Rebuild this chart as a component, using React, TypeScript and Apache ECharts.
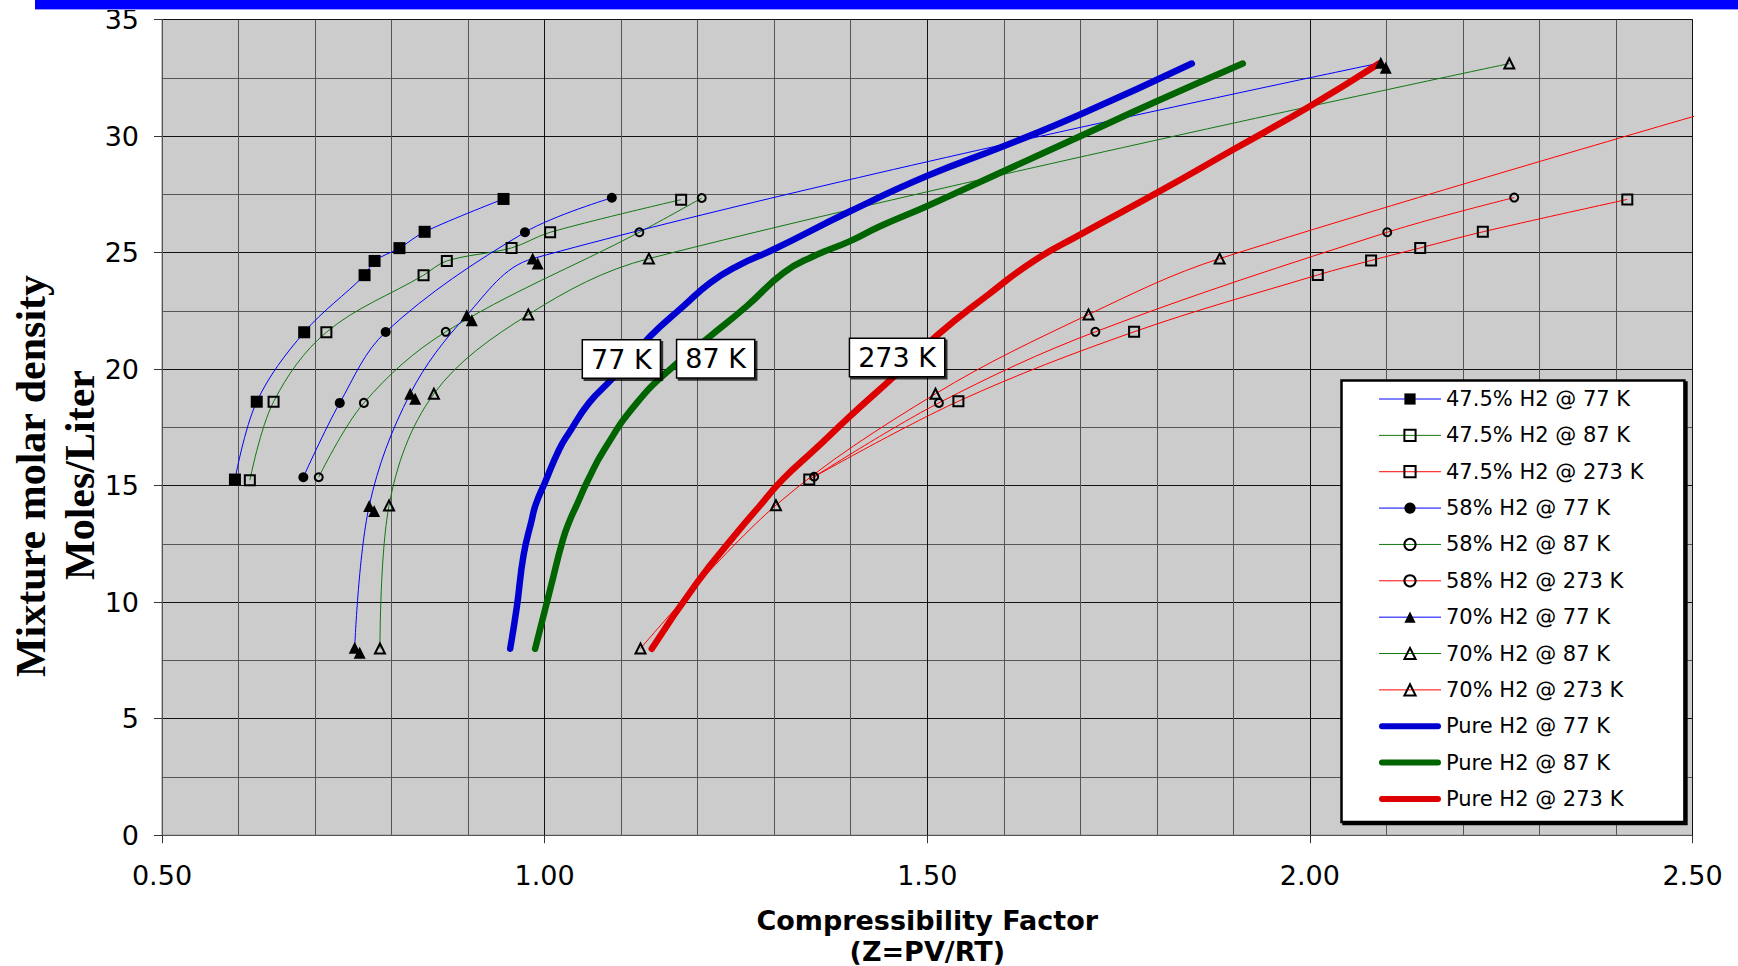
import React, { useEffect, useRef } from 'react';
import * as echarts from 'echarts';

// ---- Data ----
const seriesNames = [
  '47.5% H2 @ 77 K', '47.5% H2 @ 87 K', '47.5% H2 @ 273 K',
  '58% H2 @ 77 K', '58% H2 @ 87 K', '58% H2 @ 273 K',
  '70% H2 @ 77 K', '70% H2 @ 87 K', '70% H2 @ 273 K',
  'Pure H2 @ 77 K', 'Pure H2 @ 87 K', 'Pure H2 @ 273 K',
];

const h475_77 = [[0.5953, 15.26], [0.6238, 18.6], [0.6858, 21.58], [0.7647, 24.03], [0.7778, 24.64], [0.8103, 25.19], [0.8432, 25.89], [0.9463, 27.3]];
const h475_87 = [[0.6148, 15.23], [0.6458, 18.6], [0.7148, 21.58], [0.8418, 24.03], [0.8722, 24.64], [0.9568, 25.2], [1.0072, 25.87], [1.1784, 27.27]];
const h475_273 = [[1.3458, 15.26], [1.5407, 18.62], [1.7703, 21.6], [2.0103, 24.04], [2.08, 24.66], [2.1442, 25.2], [2.226, 25.89], [2.4148, 27.28]];
const h58_77 = [[0.6847, 15.36], [0.7323, 18.55], [0.7923, 21.59], [0.9743, 25.87], [1.0878, 27.35]];
const h58_87 = [[0.7048, 15.36], [0.7638, 18.55], [0.8708, 21.6], [1.1238, 25.87], [1.2053, 27.34]];
const h58_273 = [[1.3522, 15.38], [1.5152, 18.55], [1.7197, 21.6], [2.1011, 25.87], [2.267, 27.36]];
const h70_77 = [[0.7518, 8.04], [0.7707, 14.12], [0.8243, 18.94], [0.8983, 22.31], [0.9844, 24.74], [2.0926, 33.14]];
const h70_87 = [[0.7848, 8.01], [0.7967, 14.15], [0.8553, 18.94], [0.9787, 22.34], [1.1363, 24.74], [2.2606, 33.11]];
const h70_273 = [[1.1253, 8.01], [1.3023, 14.16], [1.5108, 18.94], [1.7107, 22.34], [1.8821, 24.74], [2.74, 33.1]];

const pure77 = [[0.955, 8.0], [0.9637, 9.8], [0.9724, 12.0], [0.9833, 13.55], [0.9885, 14.2], [1.0, 15.1], [1.019, 16.55], [1.032, 17.27], [1.058, 18.55], [1.088, 19.58], [1.138, 21.41], [1.1814, 22.7], [1.2163, 23.7], [1.2511, 24.41], [1.299, 25.13], [1.3992, 26.77], [1.4994, 28.28], [1.5996, 29.56], [1.6998, 30.92], [1.8457, 33.11]];
const pure87 = [[0.9876, 8.0], [1.0072, 10.54], [1.024, 12.69], [1.0334, 13.55], [1.041, 14.1], [1.057, 15.26], [1.078, 16.55], [1.1205, 18.55], [1.1683, 20.12], [1.2163, 21.41], [1.2642, 22.7], [1.3121, 24.13], [1.3513, 24.84], [1.3992, 25.49], [1.4384, 26.13], [1.4994, 26.99], [1.5996, 28.49], [1.6998, 29.99], [1.7999, 31.49], [1.9123, 33.11]];
const pure273 = [[1.14, 8.0], [1.1989, 10.83], [1.2511, 12.97], [1.279, 14.05], [1.311, 15.26], [1.3532, 16.55], [1.3992, 17.98], [1.457, 19.7], [1.513, 21.45], [1.58, 23.2], [1.6387, 24.63], [1.6998, 25.77], [1.7999, 27.56], [1.9, 29.42], [2.0, 31.28], [2.09, 33.1]];

const tempLabels = ['77 K', '87 K', '273 K'];
const tempLabelX = [1.1003, 1.2235, 1.4606];
const tempLabelY = [20.43, 20.44, 20.5];

const yAxisTitle = ['Mixture molar density', 'Moles/Liter'];
const xAxisTitle = 'Compressibility Factor\n(Z=PV/RT)';

// ---- Styling ----
const BLUE = '#0000ff';
const GREEN = '#117711';
const RED = '#ff0000';
const FONT = '"DejaVu Sans", Verdana, sans-serif';

function thin(name: string, data: number[][], color: string, symbol: string, filled: boolean, size: number, shadow = false) {
  const itemStyle: any = filled
    ? { color: '#000', borderWidth: 0 }
    : { color: 'rgba(0,0,0,0)', borderColor: '#000', borderWidth: 2 };
  if (shadow) {
    itemStyle.shadowColor = '#000';
    itemStyle.shadowOffsetX = 5;
    itemStyle.shadowOffsetY = 5;
    itemStyle.shadowBlur = 0;
  }
  return {
    name,
    type: 'line',
    data,
    smooth: 0.35,
    symbol,
    symbolSize: size,
    showSymbol: true,
    lineStyle: { color, width: 1 },
    itemStyle,
    emphasis: { disabled: true },
    silent: true,
  };
}

function thick(name: string, data: number[][], color: string) {
  return {
    name,
    type: 'line',
    data,
    smooth: 0.5,
    symbol: 'none',
    showSymbol: false,
    lineStyle: { color, width: 6.5, cap: 'round', join: 'round' },
    itemStyle: { color },
    emphasis: { disabled: true },
    silent: true,
  };
}

const barIcon = 'path://M3,0 L59,0 A3,3 0 0 1 59,6 L3,6 A3,3 0 0 1 3,0 Z';

export default function App() {
  const ref = useRef<HTMLDivElement>(null);

  useEffect(() => {
    if (!ref.current) return;
    const chart = echarts.init(ref.current, null, { renderer: 'svg' });

    const series = [
      thin(seriesNames[0], h475_77, BLUE, 'rect', true, 12),
      thin(seriesNames[1], h475_87, GREEN, 'rect', false, 10),
      thin(seriesNames[2], h475_273, RED, 'rect', false, 10),
      thin(seriesNames[3], h58_77, BLUE, 'circle', true, 10),
      thin(seriesNames[4], h58_87, GREEN, 'circle', false, 8),
      thin(seriesNames[5], h58_273, RED, 'circle', false, 8),
      thin(seriesNames[6], h70_77, BLUE, 'triangle', true, 12, true),
      thin(seriesNames[7], h70_87, GREEN, 'triangle', false, 10),
      thin(seriesNames[8], h70_273, RED, 'triangle', false, 10),
      thick(seriesNames[9], pure77, '#0000d0'),
      thick(seriesNames[10], pure87, '#006400'),
      thick(seriesNames[11], pure273, '#dd0000'),
    ];

    const legendData = seriesNames.map((n, i) => {
      if (i >= 9) return { name: n, icon: barIcon };
      if (i === 6) return { name: n, itemStyle: { shadowBlur: 0, shadowOffsetX: 0, shadowOffsetY: 0, shadowColor: 'rgba(0,0,0,0)' } };
      return { name: n };
    });

    const option: any = {
      animation: false,
      backgroundColor: '#ffffff',
      textStyle: { fontFamily: FONT },
      grid: {
        left: 162, right: 45.5, top: 19.5, bottom: 130.8,
        show: true, backgroundColor: '#cccccc', borderColor: '#808080', borderWidth: 1,
        containLabel: false,
        outerBoundsMode: 'none',
      },
      legend: {
        orient: 'vertical',
        left: 1341.5,
        top: 380.5,
        data: legendData,
        selectedMode: false,
        itemWidth: 62,
        itemHeight: 14,
        itemGap: 15.36,
        padding: [8, 41, 12.5, 37],
        backgroundColor: '#ffffff',
        borderColor: '#000000',
        borderWidth: 2.5,
        shadowColor: '#000000',
        shadowBlur: 0,
        shadowOffsetX: 2,
        shadowOffsetY: 2,
        lineStyle: { width: 'inherit' },
        itemStyle: { borderWidth: 'inherit' },
        textStyle: { fontFamily: FONT, fontSize: 21, color: '#000', lineHeight: 21 },
      },
      xAxis: {
        type: 'value',
        min: 0.5,
        max: 2.5,
        interval: 0.5,
        name: xAxisTitle,
        nameLocation: 'middle',
        nameGap: 69.5,
        nameTextStyle: { fontFamily: FONT, fontWeight: 'bold', fontSize: 27, lineHeight: 31, color: '#000' },
        axisLine: { show: true, lineStyle: { color: '#555', width: 1 } },
        axisTick: { show: true, length: 8, lineStyle: { color: '#333' } },
        axisLabel: { formatter: (v: number) => v.toFixed(2), fontFamily: FONT, fontSize: 27, color: '#000', margin: 27 },
        splitLine: { show: true, lineStyle: { color: '#111', width: 1 } },
        minorTick: { show: false, splitNumber: 5 },
        minorSplitLine: { show: true, lineStyle: { color: '#555', width: 1 } },
      },
      yAxis: {
        type: 'value',
        min: 0,
        max: 35,
        interval: 5,
        axisLine: { show: true, lineStyle: { color: '#555', width: 1 } },
        axisTick: { show: true, length: 8, lineStyle: { color: '#333' } },
        axisLabel: { fontFamily: FONT, fontSize: 27, color: '#000', margin: 23 },
        splitLine: { show: true, lineStyle: { color: '#111', width: 1 } },
        minorTick: { show: false, splitNumber: 2 },
        minorSplitLine: { show: true, lineStyle: { color: '#555', width: 1 } },
      },
      series,
    };

    chart.setOption(option);

    const boxes = tempLabels.map((t, i) => {
      const p = chart.convertToPixel({ gridIndex: 0 }, [tempLabelX[i], tempLabelY[i]]) as number[];
      return {
        type: 'text',
        x: p[0],
        y: p[1],
        z: 100,
        silent: true,
        style: {
          text: t,
          font: '27px "DejaVu Sans"',
          fill: '#000',
          align: 'center',
          verticalAlign: 'middle',
          textAlign: 'center',
          textVerticalAlign: 'middle',
          backgroundColor: '#ffffff',
          borderColor: '#000000',
          borderWidth: 1.5,
          padding: [4, 8, 4, 8],
          lineHeight: 29,
          shadowColor: 'rgba(0,0,0,0.75)',
          shadowBlur: 0,
          shadowOffsetX: 2,
          shadowOffsetY: 2,
        },
      };
    });

    const titleFont = 'bold 42px "Liberation Serif", "Times New Roman", serif';
    chart.setOption({
      graphic: [
        { type: 'rect', z: 100, silent: true, shape: { x: 35, y: 0, width: 1703, height: 9 }, style: { fill: '#0000ff' } },
        { type: 'line', z: 100, silent: true, shape: { x1: 35, y1: 9.5, x2: 1738, y2: 9.5 }, style: { stroke: '#9999ff', lineWidth: 1 } },
        {
          type: 'text', z: 100, silent: true, x: 31, y: 476, rotation: Math.PI / 2,
          style: { text: yAxisTitle[0], font: titleFont, fill: '#000', align: 'center', verticalAlign: 'middle', textAlign: 'center', textVerticalAlign: 'middle' },
        },
        {
          type: 'text', z: 100, silent: true, x: 80, y: 475, rotation: Math.PI / 2,
          style: { text: yAxisTitle[1], font: titleFont, fill: '#000', align: 'center', verticalAlign: 'middle', textAlign: 'center', textVerticalAlign: 'middle' },
        },
        ...boxes,
      ],
    });

    return () => {
      chart.dispose();
    };
  }, []);

  return (
    <div
      ref={ref}
      style={{ position: 'absolute', left: 0, top: 0, width: 1738, height: 966, background: '#fff' }}
    />
  );
}
